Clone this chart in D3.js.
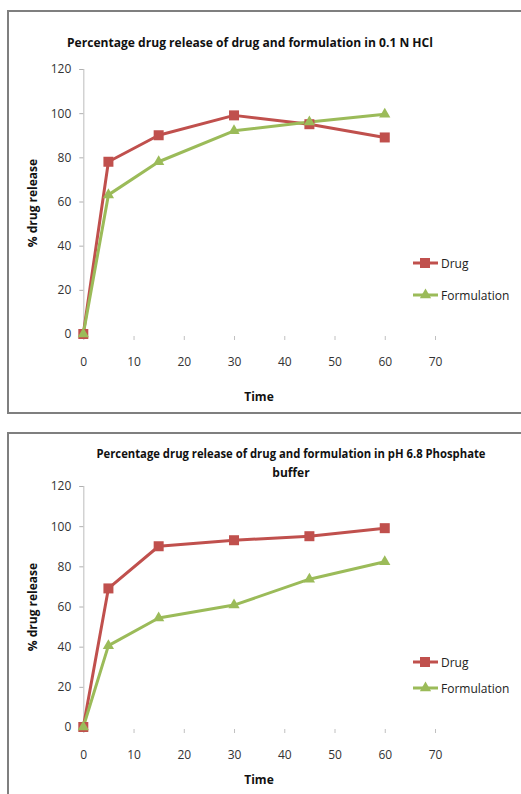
<!DOCTYPE html>
<html><head><meta charset="utf-8">
<script src="https://cdn.jsdelivr.net/npm/d3@7"></script>
<style>
body{margin:0;background:#fff;}
svg{display:block;}
text{font-family:"Open Sans",Arial,sans-serif;}
</style></head>
<body>
<svg id="c" width="521" height="794"></svg>
<script>
const times = [0, 5, 15, 30, 45, 60];
const xTicks = [0, 10, 20, 30, 40, 50, 60, 70];
const yTicks = [0, 20, 40, 60, 80, 100, 120];
const seriesNames = ["Drug", "Formulation"];
const hclDrug = [0, 78, 90, 99, 95, 89];
const hclFormulation = [0, 63, 78, 92, 96, 99.5];
const phDrug = [0, 69, 90, 93, 95, 99];
const phFormulation = [0, 40.5, 54.3, 60.7, 73.6, 82.3];
const titles = [
  ["Percentage drug release of drug and formulation in 0.1 N HCl"],
  ["Percentage drug release of drug and formulation in pH 6.8 Phosphate", "buffer"]
];
const colors = ["#C0504D", "#9BBB59"];

const svg = d3.select("#c");

const panels = [
  {box:[8, 11, 530, 402], y0:334, y120:69, title:titles[0], titleY:[47], titleX:250, titleW:[366],
   timeY:401, yLabY:203, legY:[263, 295], data:[hclDrug, hclFormulation]},
  {box:[8, 433, 530, 380], y0:727, y120:486, title:titles[1], titleY:[458, 477], titleX:291, titleW:[389, null],
   timeY:784, yLabY:607, legY:[662, 688], data:[phDrug, phFormulation]}
];

panels.forEach(p => {
  svg.append("rect").attr("x", p.box[0]).attr("y", p.box[1]).attr("width", p.box[2]).attr("height", p.box[3])
    .attr("fill", "none").attr("stroke", "#7f7f7f").attr("stroke-width", 2);

  const x = d3.scaleLinear().domain([0, 70]).range([83.3, 435]);
  const y = d3.scaleLinear().domain([0, 120]).range([p.y0, p.y120]);

  // title
  p.title.forEach((t, i) => {
    const tx = svg.append("text").attr("x", p.titleX).attr("y", p.titleY[i]).attr("text-anchor", "middle")
      .attr("font-size", 12).attr("font-weight", "bold").attr("fill", "#111").text(t);
    if (p.titleW[i]) tx.attr("textLength", p.titleW[i]).attr("lengthAdjust", "spacingAndGlyphs");
  });

  // y axis
  const ya = svg.append("g").attr("transform", `translate(${x(0)},0)`)
    .call(d3.axisLeft(y).tickValues(yTicks).tickSize(4).tickPadding(8).tickFormat(d3.format("d")));
  ya.select(".domain").attr("stroke", "#c8c8c8").attr("stroke-width", 1.2);
  ya.selectAll(".tick line").attr("stroke", "#b0b0b0");
  ya.selectAll(".tick text").attr("font-size", 12).attr("fill", "#333")
    .attr("font-family", "'Open Sans',sans-serif");

  // x axis (ticks only, no visible line)
  const xa = svg.append("g").attr("transform", `translate(0,${p.y0})`)
    .call(d3.axisBottom(x).tickValues(xTicks).tickSize(6).tickPadding(17).tickFormat(d3.format("d")));
  xa.select(".domain").remove();
  xa.selectAll(".tick line").attr("stroke", "#c0c0c0").attr("y1", 2).attr("y2", 6);
  xa.selectAll(".tick text").attr("font-size", 12).attr("fill", "#333")
    .attr("font-family", "'Open Sans',sans-serif");

  // labels
  svg.append("text").attr("transform", `translate(37,${p.yLabY}) rotate(-90)`).attr("text-anchor", "middle")
    .attr("font-size", 12).attr("font-weight", "bold").attr("fill", "#111").text("% drug release");
  svg.append("text").attr("x", 259).attr("y", p.timeY).attr("text-anchor", "middle")
    .attr("font-size", 12).attr("font-weight", "bold").attr("fill", "#111").text("Time");

  const line = d3.line().x((d, i) => x(times[i])).y(d => y(d));
  const tri = d3.symbol().type(d3.symbolTriangle).size(55);

  p.data.forEach((vals, si) => {
    svg.append("path").datum(vals).attr("d", line).attr("fill", "none")
      .attr("stroke", colors[si]).attr("stroke-width", 3).attr("stroke-linejoin", "round");
  });
  p.data.forEach((vals, si) => {
    const g = svg.append("g");
    if (si === 0) {
      g.selectAll("rect").data(vals).join("rect")
        .attr("x", (d, i) => x(times[i]) - 5).attr("y", d => y(d) - 5)
        .attr("width", 10).attr("height", 10).attr("fill", colors[si]);
    } else {
      g.selectAll("path").data(vals).join("path")
        .attr("d", tri).attr("transform", (d, i) => `translate(${x(times[i])},${y(d)})`)
        .attr("fill", colors[si]);
    }
  });

  // legend
  seriesNames.forEach((n, si) => {
    const ly = p.legY[si];
    svg.append("line").attr("x1", 413).attr("x2", 438).attr("y1", ly).attr("y2", ly)
      .attr("stroke", colors[si]).attr("stroke-width", 3);
    if (si === 0) {
      svg.append("rect").attr("x", 420).attr("y", ly - 5).attr("width", 10).attr("height", 10).attr("fill", colors[si]);
    } else {
      svg.append("path").attr("d", tri).attr("transform", `translate(425.5,${ly})`).attr("fill", colors[si]);
    }
    svg.append("text").attr("x", 441).attr("y", ly + 4.5).attr("font-size", 12).attr("fill", "#222").text(n);
  });
});
</script>
</body></html>
